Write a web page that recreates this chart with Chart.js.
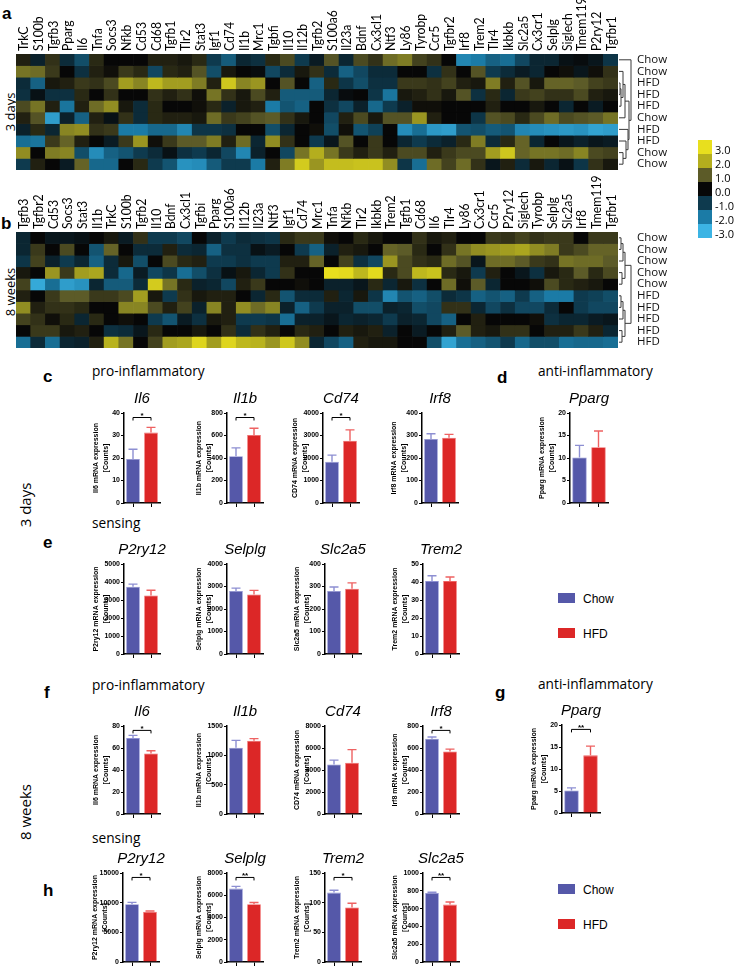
<!DOCTYPE html>
<html>
<head>
<meta charset="utf-8">
<title>microglia gene expression</title>
<script src="https://cdn.jsdelivr.net/npm/chart.js@4.4.1/dist/chart.umd.min.js"></script>
<style>
  body { margin: 0; background: #fff; }
  #page { position: relative; width: 734px; height: 966px; overflow: hidden; background: #fff; }
  #page canvas { position: absolute; }
  .t { position: absolute; line-height: 1; white-space: nowrap; color: #000; }
  .panel { font: bold 17px 'Liberation Sans', Arial, sans-serif; }
  .head { font: 13.7px 'Open Sans', sans-serif; }
  .side { font-family: 'Open Sans', sans-serif; transform: translate(-50%, -50%) rotate(-90deg); }
  .sw { position: absolute; }
  .leg { font: 12px 'Liberation Sans', Arial, sans-serif; }
  .scl { font: 11px 'Open Sans', sans-serif; }
</style>
</head>
<body>
<div id="page">
  <div class="t panel" style="left:2px;top:3.6px">a</div>
  <div class="t panel" style="left:1px;top:213.6px">b</div>
  <div class="t panel" style="left:43px;top:366.6px">c</div>
  <div class="t panel" style="left:497px;top:367.6px">d</div>
  <div class="t panel" style="left:43px;top:532.6px">e</div>
  <div class="t panel" style="left:44px;top:682.6px">f</div>
  <div class="t panel" style="left:495px;top:682.6px">g</div>
  <div class="t panel" style="left:43px;top:880.6px">h</div>

  <div class="t head" style="left:92px;top:360.8px">pro-inflammatory</div>
  <div class="t head" style="left:538px;top:360.8px">anti-inflammatory</div>
  <div class="t head" style="left:92px;top:512.8px">sensing</div>
  <div class="t head" style="left:92px;top:674.8px">pro-inflammatory</div>
  <div class="t head" style="left:538px;top:673.8px">anti-inflammatory</div>
  <div class="t head" style="left:92px;top:827.8px">sensing</div>

  <div class="t side" style="left:10px;top:112px;font-size:13px">3 days</div>
  <div class="t side" style="left:10px;top:292px;font-size:13px">8 weeks</div>
  <div class="t side" style="left:25px;top:505px;font-size:15px">3 days</div>
  <div class="t side" style="left:25px;top:812px;font-size:15px">8 weeks</div>
</div>
<script>
// ---- heatmap data ----
const genesA = ['TrkC','S100b','Tgfb3','Pparg','Il6','Tnfa','Socs3','Nfkb','Cd53','Cd68','Tgfb1','Tlr2','Stat3','Igf1','Cd74','Il1b','Mrc1','Tgbfi','Il10','Il12b','Tgfb2','S100a6','Il23a','Bdnf','Cx3cl1','Ntf3','Ly86','Tyrobp','Ccr5','Tgfbr2','Irf8','Trem2','Tlr4','Ikbkb','Slc2a5','Cx3cr1','Selplg','Siglech','Tmem119','P2ry12','Tgfbr1'];
const rowsA = ['Chow','Chow','HFD','HFD','HFD','Chow','HFD','HFD','Chow','Chow'];
const heatA = [
  [0.3,-0.5,0.5,-0.7,-1.3,0.4,0,0,0,0.3,0.3,0.2,0.4,-1.0,-1.5,-0.6,-0.8,0.4,0.8,-1.0,-0.4,0.9,-0.6,0.8,0.5,1.2,1.4,0.7,0.5,0,-2.2,-2.0,-1.6,-1.8,-1.2,-0.6,-0.6,-0.2,-0.1,-0.3,-0.9],
  [1.3,1.2,0.6,0,-0.8,0.3,0.1,0.6,0.4,-1.2,0.4,0.3,0.9,-1.3,0.2,0,-0.1,-1.2,-0.7,0.2,0.5,-0.7,-1.6,-1.2,-0.7,-0.7,0,0,-0.8,0.5,0,0.9,-1.0,-0.7,-0.4,-0.6,0,0.1,-0.3,0.1,0.5],
  [-0.7,-1.6,0.2,0.3,0.6,0.5,0.8,1.8,1.5,2.2,1.8,1.8,1.4,0.3,2.5,1.5,1.7,0,0.9,0,-1.6,0.4,-0.9,-1.3,-0.8,-0.8,0.6,0.6,0.5,0.7,0.3,0.2,1.4,0.3,0.9,0.2,1.1,1.1,1.0,0.7,0.6],
  [-0.8,-0.2,-0.8,-0.8,0.4,0,0.5,0,0,0.5,0.3,0.5,0.1,1.3,0.5,0.2,0.8,0.3,-1.5,-1.5,-1.5,-0.6,-0.1,0,-0.9,-1.9,0.2,0.3,0.5,0.2,0.9,-0.8,0.4,-0.6,0.6,0.7,0.5,0.5,0.8,0.3,0.2],
  [0.8,1.3,0.3,-1.9,0.3,1.2,1.6,0.2,-0.7,0.4,0,0,0.1,0.4,-0.5,0.2,0.3,-2.0,-1.4,-1.6,0,-0.8,-1.2,-0.5,-1.7,-1.0,-0.5,0.1,0.1,0,0,0,0.3,0,0,0.2,0,-0.6,0,-0.4,0],
  [0.3,0.9,-2.6,-0.5,-1.6,0.3,-0.2,0.5,-0.7,0.4,0.3,0.3,0.2,1.2,0.6,0.7,0.9,1.0,0.5,0.2,0,-1.2,0.3,0.8,0.2,0.9,0.9,1.7,0.3,0,0,-0.9,0.9,0.8,0.4,0.8,1.2,0.8,0.9,1.0,1.3],
  [-0.5,0.4,-0.6,1.5,1.6,0.5,0.6,-2.0,-2.0,-1.7,-1.7,-2.2,-0.9,-0.9,-0.8,0,0,-1.3,-0.6,0,0.1,-1.3,0.1,-1.4,-1.1,0,-2.3,-1.8,-2.5,-2.6,-1.4,-1.3,-1.5,-1.4,-2.2,-2.3,-2.4,-2.5,-2.4,-2.7,-2.6],
  [-1.8,-1.9,0.6,1.1,0.3,0,-0.4,0.6,1.7,0.1,0.6,1.0,1.0,1.4,0.3,1.2,-0.6,1.6,0.5,0,-1.0,-0.3,0.9,0,0.6,0,-0.6,-1.0,-0.7,-0.5,0.4,1.4,-0.7,0.4,1.1,-0.6,0,-0.3,-0.5,-0.3,-0.4],
  [1.6,0,1.4,1.5,-1.3,-2.3,-1.6,-1.4,-1.0,-0.7,-0.2,-0.8,-1.0,-0.6,-1.2,-2.2,-0.5,0,-1.2,1.3,2.0,1.3,0.6,0.3,0.6,0.3,0.8,0.8,0.3,0.6,0.8,0.8,1.8,2.5,1.1,1.3,1.3,1.2,1.5,0.8,0.7],
  [-1.0,0.3,0,-0.4,1.1,-1.7,-1.7,0,0.4,-1.0,-1.4,-2.4,-2.3,-1.5,-1.0,-1.0,-2.0,0.3,1.4,2.6,1.7,2.3,2.3,2.4,2.4,1.6,-0.9,-1.8,1.2,0.7,1.2,0.5,-0.3,0.3,-0.7,0.2,-0.6,-0.2,-0.9,0.5,0.2]
];
const genesB = ['Tgfb3','Tgfbr2','Cd53','Socs3','Stat3','Il1b','TrkC','S100b','Tgfb2','Il10','Bdnf','Cx3cl1','Tgfbi','Pparg','S100a6','Il12b','Il23a','Ntf3','Igf1','Cd74','Mrc1','Tnfa','Nfkb','Tlr2','Ikbkb','Trem2','Tgfb1','Cd68','Il6','Tlr4','Ly86','Cx3cr1','Ccr5','P2ry12','Siglech','Tyrobp','Selplg','Slc2a5','Irf8','Tmem119','Tgfbr1'];
const rowsB = ['Chow','Chow','Chow','Chow','Chow','HFD','HFD','HFD','HFD','HFD'];
const heatB = [
  [-0.6,0,-0.3,-0.3,-0.2,0,0.2,-0.4,0.5,-1.0,-1.0,-1.2,0,-0.5,-1.0,-0.7,-0.8,-0.9,0.4,0.6,0.6,0.1,0,0.4,0.2,0,0,0.5,0.2,0.3,0,0,0.6,0.5,0.7,0.5,0.6,0.6,0,0.6,0.6],
  [-0.6,0.6,0,0.8,0,-1.4,1.1,0,-0.7,-0.7,0.3,-0.7,-0.6,-1.6,-0.8,-0.8,-0.2,-0.4,0,-1.0,-1.6,-0.5,0.3,0.2,0,1.1,1.0,0.4,0,0.5,1.3,1.6,1.7,1.8,1.9,1.6,1.4,0.6,0.8,1.1,1.1],
  [-0.9,0.7,-0.5,-1.0,-0.6,-1.6,-0.7,0.2,-1.3,0,0.8,0.4,0.3,-1.0,-1.0,-0.8,-1.0,-1.0,0.3,0.3,1.1,0,0.7,-0.8,-1.2,1.7,0.8,0.5,0.4,1.2,0.9,-0.3,1.2,1.2,1.0,0.6,0.5,1.3,1.2,1.2,1.0],
  [0.2,0,1.7,0.6,1.8,1.9,-0.7,-1.7,-0.4,-1.2,-0.9,-1.8,-1.3,-0.8,-0.2,0.2,-0.6,-1.0,0.5,0,0,3.0,2.9,2.2,2.9,0.4,0.8,2.2,2.4,0.4,0.2,-1.0,0.3,0,-0.3,-0.8,0.2,0.4,1.0,0.4,0.8],
  [0.7,-2.8,-1.8,-2.6,-2.4,-0.6,-1.5,-1.5,-0.7,2.6,1.3,0.4,-0.5,-0.6,-1.2,0.3,0.6,0,0,0.1,0,-0.5,-0.5,-0.3,0.4,-0.6,0.2,-0.8,0,1.2,0.1,1.0,-0.6,0,0,0.1,0.8,0.4,0.3,0.2,0],
  [0.3,0,0.6,1.0,1.0,0.6,0.6,0.8,1.8,0.2,-1.0,0.5,0.2,0.3,0.3,0,-0.6,0.4,-1.4,-0.7,-0.7,0.3,-0.6,0.2,-0.9,-2.2,-1.4,-1.6,-1.3,-0.7,-0.9,-1.6,-1.4,-1.6,-1.0,-1.6,-2.0,-2.0,-1.0,-1.1,-1.3],
  [1.6,0.3,0.5,0.5,0.4,0,0,1.5,1.5,0.8,0.3,0.7,-0.5,1.5,0.3,1.6,1.2,1.5,-0.5,-1.6,-1.0,-0.5,-0.5,-1.3,-1.3,-0.5,-0.6,-1.3,-1.2,0.5,0.5,-0.6,-1.2,-0.8,-1.2,-1.2,-0.7,0,-1.0,-1.2,-1.2],
  [0.7,0.5,0.1,0.4,-0.6,0.4,0,0.1,0,-1.0,-1.4,-0.4,-0.8,0.2,0.3,-1.0,-1.0,-0.9,-1.8,-0.5,-0.5,-0.3,-0.6,-0.5,-0.6,-1.0,-0.5,-0.6,-1.2,-1.6,0,0.3,0,0,0,0.1,-0.8,-0.6,-0.6,-0.4,-0.3],
  [0,0.6,0.6,0.2,0.3,0,-0.8,-0.7,-0.3,0.4,0,0,0.2,0,0.5,-0.7,0.5,0.3,0,0.4,0.3,0,0.3,0.2,0.3,-0.5,0,-0.4,0,0.3,1.0,0.3,0.2,0.5,0.5,0,0.3,0.3,0.6,0.3,-0.6],
  [-1.8,-0.7,-1.8,-0.6,-0.5,0.3,2.1,1.3,0,0.7,1.8,1.9,2.8,1.8,2.8,2.2,2.1,1.7,2.5,1.6,-0.6,-1.2,-1.6,0.3,0.2,0.2,0,0,-1.3,-2.7,-1.8,-1.6,-1.4,-1.0,-1.7,-1.3,-1.3,-1.8,-1.7,-1.7,-1.8]
];
// colour key
const scaleTicks = [3, 2, 1, 0, -1, -2, -3];
const scaleColors = ['#e8df1e', '#b4ae1e', '#5c5b28', '#070707', '#0e3a4e', '#1b7ba6', '#3cb4e4'];

// dendrograms: [node, node, height] (leaves are rows 0-9, merges add nodes 10, 11 ...)
const treeA = [[2,3,1],[10,4,2],[1,11,4],[12,5,6],[8,9,4],[7,14,7],[6,15,9],[13,16,10],[0,17,12]];
const treeB = [[0,1,2],[10,2,4],[3,4,3],[11,12,6],[5,6,2],[14,7,4],[8,9,3],[15,16,6],[13,17,12]];

// ---- bar chart data ----
const groups = ['Chow', 'HFD'];

// 3 days, pro-inflammatory (c)
const c3Genes = ['Il6', 'Il1b', 'Cd74', 'Irf8'];
const c3YLab = ['Il6', 'Il1b', 'CD74', 'Irf8'];
const c3Chow = [19.6, 415, 1830, 285];
const c3ChowErr = [4.3, 75, 300, 23];
const c3Hfd = [31.3, 605, 2770, 290];
const c3HfdErr = [2.3, 60, 480, 15];
const c3Max = [40, 800, 4000, 400];
const c3Step = [10, 200, 1000, 100];
const c3Sig = ['*', '*', '*', ''];

// 3 days, anti-inflammatory (d)
const d3Genes = ['Pparg'];
const d3YLab = ['Pparg'];
const d3Chow = [10.1];
const d3ChowErr = [2.7];
const d3Hfd = [12.4];
const d3HfdErr = [3.6];
const d3Max = [20];
const d3Step = [5];
const d3Sig = [''];

// 3 days, sensing (e)
const e3Genes = ['P2ry12', 'Selplg', 'Slc2a5', 'Trem2'];
const e3YLab = ['P2ry12', 'Selplg', 'Slc2a5', 'Trem2'];
const e3Chow = [3740, 2800, 280, 40.5];
const e3ChowErr = [140, 130, 18, 3];
const e3Hfd = [3250, 2650, 290, 40.5];
const e3HfdErr = [290, 180, 26, 2.3];
const e3Max = [5000, 4000, 400, 50];
const e3Step = [1000, 1000, 100, 10];
const e3Sig = ['', '', '', ''];

// 8 weeks, pro-inflammatory (f)
const f8Genes = ['Il6', 'Il1b', 'Cd74', 'Irf8'];
const f8YLab = ['Il6', 'Il1b', 'CD74', 'Irf8'];
const f8Chow = [69, 1130, 4500, 685];
const f8ChowErr = [2.5, 125, 400, 15];
const f8Hfd = [55, 1250, 4650, 568];
const f8HfdErr = [2.5, 35, 1200, 22];
const f8Max = [80, 1500, 8000, 800];
const f8Step = [20, 500, 2000, 200];
const f8Sig = ['*', '', '', '*'];

// 8 weeks, anti-inflammatory (g)
const g8Genes = ['Pparg'];
const g8YLab = ['Pparg'];
const g8Chow = [5.1];
const g8ChowErr = [0.6];
const g8Hfd = [13.1];
const g8HfdErr = [2.1];
const g8Max = [20];
const g8Step = [5];
const g8Sig = ['**'];

// 8 weeks, sensing (h)
const h8Genes = ['P2ry12', 'Selplg', 'Trem2', 'Slc2a5'];
const h8YLab = ['P2ry12', 'Selplg', 'Trem2', 'Slc2a5'];
const h8Chow = [9750, 6600, 117, 775];
const h8ChowErr = [300, 200, 4, 8];
const h8Hfd = [8450, 5200, 92, 645];
const h8HfdErr = [150, 150, 7, 30];
const h8Max = [15000, 8000, 150, 1000];
const h8Step = [5000, 2000, 50, 200];
const h8Sig = ['*', '**', '*', '**'];

// colours
const chowColor = '#5558a9';
const hfdColor = '#dc2727';
const chowErrColor = '#8d8fd2';
const hfdErrColor = '#ee6262';

const page = document.getElementById('page');

//heatmap colour from the key
const hexRgb = h => [1, 3, 5].map(i => parseInt(h.substr(i, 2), 16));
const heatColor = v => {
    const t = Math.max(-3, Math.min(3, v));
    const i = Math.min(5, Math.floor(3 - t));
    const f = scaleTicks[i] - t;
    const a = hexRgb(scaleColors[i]), b = hexRgb(scaleColors[i + 1]);
    const c = a.map((x, k) => Math.round(x + (b[k] - x) * f));
    return 'rgb(' + c.join(',') + ')';
};

//gene names, row names and dendrogram around the heatmap
const heatDecor = {
    id: 'heatDecor',
    afterDraw(chart, args, o) {
        const { ctx, chartArea } = chart;
        const xs = chart.scales.x, ys = chart.scales.y;
        ctx.save();
        ctx.fillStyle = '#000';
        ctx.font = '14px Lato';
        ctx.textAlign = 'left';
        ctx.textBaseline = 'middle';
        chart.data.labels.forEach((g, i) => {
            ctx.save();
            ctx.translate(xs.getPixelForValue(i) + 0.5, chartArea.top - 3);
            ctx.rotate(-Math.PI / 2);
            ctx.scale(0.87, 1);
            ctx.fillText(g, 0, 0);
            ctx.restore();
        });
        ctx.font = '11.5px "Open Sans"';
        ctx.fillStyle = '#111';
        o.rows.forEach((r, i) => ctx.fillText(r, chartArea.right + 19, ys.getPixelForValue(i + 0.5)));

        const x0 = chartArea.right + 1;
        const nodes = o.rows.map((r, i) => ({ x: x0, y: ys.getPixelForValue(i + 0.5) }));
        ctx.strokeStyle = '#3a3a3a';
        ctx.lineWidth = 1;
        o.tree.forEach(([a, b, h]) => {
            const A = nodes[a], B = nodes[b], x = x0 + h;
            ctx.beginPath();
            ctx.moveTo(A.x, A.y);
            ctx.lineTo(x, A.y);
            ctx.lineTo(x, B.y);
            ctx.lineTo(B.x, B.y);
            ctx.stroke();
            nodes.push({ x: x, y: (A.y + B.y) / 2 });
        });
        ctx.restore();
    }
};

const makeHeat = (top, height, genes, rows, heat, tree, labelH) => {
    const cv = document.createElement('canvas');
    cv.width = 700;
    cv.height = height;
    cv.style.left = '0px';
    cv.style.top = top + 'px';
    page.appendChild(cv);
    new Chart(cv, {
        type: 'bar',
        data: {
            labels: genes,
            datasets: heat.map(row => ({
                data: genes.map(() => 1),
                backgroundColor: row.map(heatColor),
                borderWidth: 0,
                barPercentage: 1,
                categoryPercentage: 1
            }))
        },
        options: {
            responsive: false,
            animation: false,
            layout: { padding: { left: 16, right: 82, top: 0, bottom: 5 } },
            plugins: { legend: { display: false }, tooltip: { enabled: false }, heatDecor: { tree: tree, rows: rows } },
            scales: {
                x: {
                    position: 'top',
                    stacked: true,
                    grid: { display: false, drawTicks: false },
                    border: { display: false },
                    ticks: { display: false },
                    afterFit(s) { s.height = labelH; }
                },
                y: { stacked: true, reverse: true, min: 0, max: rows.length, display: false }
            }
        },
        plugins: [heatDecor]
    });
};

makeHeat(0, 175, genesA, rowsA, heatA, treeA, 54);
makeHeat(175, 178, genesB, rowsB, heatB, treeB, 57);

//colour key
scaleTicks.forEach((v, i) => {
    const sw = document.createElement('div');
    sw.className = 'sw';
    sw.style.cssText = 'left:698px;top:' + (140 + i * 14) + 'px;width:14px;height:14px;background:' + scaleColors[i];
    page.appendChild(sw);
    const tx = document.createElement('div');
    tx.className = 't scl';
    tx.style.cssText = 'left:715px;top:' + (140 + i * 14 + 1.5) + 'px';
    tx.textContent = v.toFixed(1);
    page.appendChild(tx);
});

//error bars, significance bracket and gene title
const barExtras = {
    id: 'barExtras',
    afterDatasetsDraw(chart, args, o) {
        const { ctx, chartArea } = chart;
        const ys = chart.scales.y;
        const meta = chart.getDatasetMeta(0);
        const vals = chart.data.datasets[0].data;
        ctx.save();
        ctx.lineWidth = 1.4;
        meta.data.forEach((bar, i) => {
            const top = ys.getPixelForValue(vals[i] + o.err[i]);
            ctx.strokeStyle = o.errColors[i];
            ctx.beginPath();
            ctx.moveTo(bar.x, bar.y);
            ctx.lineTo(bar.x, top);
            ctx.moveTo(bar.x - 4.5, top);
            ctx.lineTo(bar.x + 4.5, top);
            ctx.stroke();
        });
        if (o.sig) {
            const x1 = meta.data[0].x, x2 = meta.data[1].x;
            const sy = ys.getPixelForValue(ys.max * 0.95);
            ctx.strokeStyle = '#000';
            ctx.lineWidth = 1;
            ctx.beginPath();
            ctx.moveTo(x1, sy + 3);
            ctx.lineTo(x1, sy);
            ctx.lineTo(x2, sy);
            ctx.lineTo(x2, sy + 3);
            ctx.stroke();
            ctx.fillStyle = '#000';
            ctx.font = 'bold 8px "Liberation Sans"';
            ctx.textAlign = 'center';
            ctx.textBaseline = 'alphabetic';
            ctx.fillText(o.sig, (x1 + x2) / 2, sy + 0.5);
        }
        ctx.fillStyle = '#000';
        ctx.font = 'italic 15px "Liberation Sans"';
        ctx.textAlign = 'center';
        ctx.textBaseline = 'middle';
        ctx.fillText(o.title, (chartArea.left + chartArea.right) / 2, chartArea.top - 14);
        ctx.restore();
    }
};

const makeBar = (p) => {
    const L = 52, T = 30, w = p.w || 36;
    const cv = document.createElement('canvas');
    cv.width = L + w + 10;
    cv.height = T + (p.zero - p.top) + 10;
    cv.style.left = (p.axis - L) + 'px';
    cv.style.top = (p.top - T) + 'px';
    page.appendChild(cv);
    new Chart(cv, {
        type: 'bar',
        data: {
            labels: groups,
            datasets: [{
                data: [p.chow, p.hfd],
                backgroundColor: [chowColor, hfdColor],
                borderColor: [chowErrColor, hfdErrColor],
                borderWidth: 0.8,
                barPercentage: 0.76,
                categoryPercentage: 1
            }]
        },
        options: {
            responsive: false,
            animation: false,
            layout: { padding: { left: 0, right: 10, top: T, bottom: 2 } },
            plugins: {
                legend: { display: false },
                tooltip: { enabled: false },
                barExtras: { err: [p.chowErr, p.hfdErr], errColors: [chowErrColor, hfdErrColor], sig: p.sig, title: p.gene }
            },
            scales: {
                x: {
                    grid: { drawOnChartArea: false, offset: false, tickLength: 4, color: '#000', lineWidth: 1 },
                    border: { color: '#000', width: 1.5 },
                    ticks: { display: false },
                    afterFit(s) { s.height = 8; }
                },
                y: {
                    min: 0,
                    max: p.max,
                    ticks: { stepSize: p.step, padding: 1, color: '#000', font: { family: 'Liberation Sans', size: 7, weight: 'bold' }, callback: v => String(v) },
                    grid: { drawOnChartArea: false, tickLength: 3, color: '#000', lineWidth: 1 },
                    border: { color: '#000', width: 1.5 },
                    title: {
                        display: true,
                        text: [p.ylab + ' mRNA expression', '[Counts]'],
                        color: '#000',
                        font: { family: 'Liberation Sans', size: 7, weight: 'bold', lineHeight: 1.3 },
                        padding: { top: 20, bottom: 0 }
                    },
                    afterFit(s) { s.width = L; }
                }
            }
        },
        plugins: [barExtras]
    });
};

//one row of small bar charts
const barRow = (genes, ylab, chow, chowErr, hfd, hfdErr, max, step, sig, axes, top, zero, w) => {
    genes.forEach((g, i) => makeBar({
        gene: g, ylab: ylab[i], chow: chow[i], chowErr: chowErr[i], hfd: hfd[i], hfdErr: hfdErr[i],
        max: max[i], step: step[i], sig: sig[i], axis: axes[i], top: top, zero: zero, w: w
    }));
};

barRow(c3Genes, c3YLab, c3Chow, c3ChowErr, c3Hfd, c3HfdErr, c3Max, c3Step, c3Sig, [124, 227, 323, 422], 413, 503, 36);
barRow(d3Genes, d3YLab, d3Chow, d3ChowErr, d3Hfd, d3HfdErr, d3Max, d3Step, d3Sig, [570], 413, 503, 38);
barRow(e3Genes, e3YLab, e3Chow, e3ChowErr, e3Hfd, e3HfdErr, e3Max, e3Step, e3Sig, [124, 227, 325, 423], 564, 654, 36);
barRow(f8Genes, f8YLab, f8Chow, f8ChowErr, f8Hfd, f8HfdErr, f8Max, f8Step, f8Sig, [124, 227, 325, 423], 726, 814, 36);
barRow(g8Genes, g8YLab, g8Chow, g8ChowErr, g8Hfd, g8HfdErr, g8Max, g8Step, g8Sig, [562], 725, 813, 38);
barRow(h8Genes, h8YLab, h8Chow, h8ChowErr, h8Hfd, h8HfdErr, h8Max, h8Step, h8Sig, [123, 227, 325, 423], 873, 962, 36);

//group legends
const legend = (top) => {
    [[groups[0], chowColor], [groups[1], hfdColor]].forEach(([name, col], i) => {
        const y = top + i * 35;
        const sw = document.createElement('div');
        sw.className = 'sw';
        sw.style.cssText = 'left:558px;top:' + (y - 5) + 'px;width:17px;height:10px;background:' + col;
        page.appendChild(sw);
        const tx = document.createElement('div');
        tx.className = 't leg';
        tx.style.cssText = 'left:583px;top:' + (y - 6) + 'px';
        tx.textContent = name;
        page.appendChild(tx);
    });
};
legend(598);
legend(889);
</script>
</body>
</html>
